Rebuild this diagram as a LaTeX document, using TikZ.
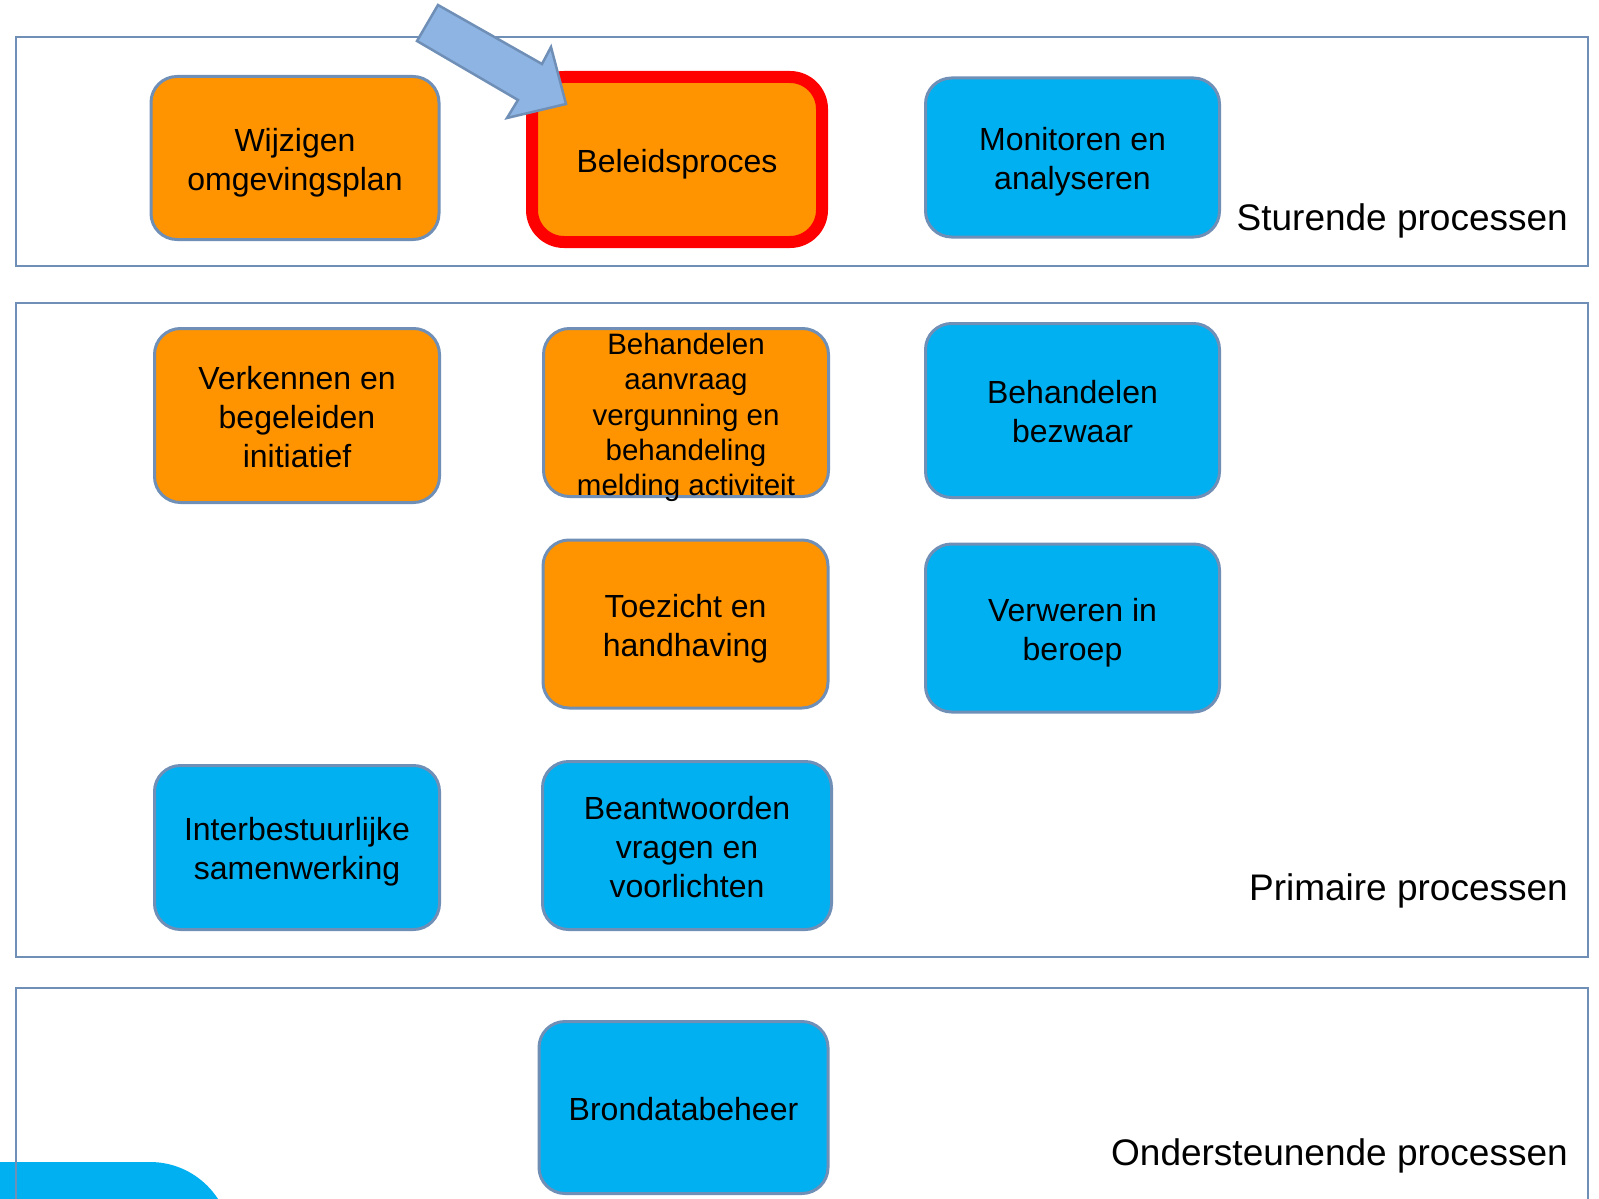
\documentclass[tikz,border=0pt]{standalone}
\usepackage{fontspec}
\setmainfont{Liberation Sans}
\definecolor{orng}{HTML}{FF9400}
\definecolor{cyanblue}{HTML}{00B0F0}
\definecolor{edgeblue}{HTML}{6F8FB7}
\definecolor{arrowfill}{HTML}{8DB4E2}
\newcommand{\bxtop}{\rule{0pt}{1.03em}}
\newcommand{\bxbot}{\rule[-0.22em]{0pt}{0.22em}}
\tikzset{
  frame/.style={draw=edgeblue, line width=2.5pt},
  procbox/.style={rounded corners=26pt, draw=edgeblue, line width=3pt, align=center,
    inner sep=0pt, text=black, font=\fontsize{32pt}{39pt}\selectfont},
  orangebox/.style={procbox, fill=orng},
  bluebox/.style={procbox, fill=cyanblue},
  lanelabel/.style={anchor=base east, inner sep=0pt, font=\fontsize{37pt}{44pt}\selectfont}
}
\begin{document}
\begin{tikzpicture}[x=1pt,y=-1pt]
\useasboundingbox (0,0) rectangle (1599,1199);
\clip (0,0) rectangle (1599,1199);
% bottom-left partial shape
\fill[cyanblue, rounded corners=81pt] (-300,1162) rectangle (231,1450);
% lanes
\draw[frame] (16,37) rectangle (1588,266);
\draw[frame] (16,303) rectangle (1588,957);
\draw[frame] (16,988) rectangle (1588,1260);
% boxes
\node[orangebox, minimum width=288pt, minimum height=163pt] (wijz) at (295,158) {\bxtop Wijzigen\\omgevingsplan\bxbot};
\node[orangebox, draw=red, line width=12pt, rounded corners=32pt, minimum width=290pt, minimum height=165pt] (beleid) at (677,159.5) {\bxtop Beleidsproces\bxbot};
\node[bluebox, minimum width=294pt, minimum height=159pt] (monitor) at (1072.5,157.5) {\bxtop Monitoren en\\analyseren\bxbot};
\node[orangebox, minimum width=285pt, minimum height=174pt] (verk) at (297,415.5) {\bxtop Verkennen en\\begeleiden\\initiatief\bxbot};
\node[orangebox, minimum width=285pt, minimum height=168pt, text height=167.25pt, text depth=0.75pt, font=\fontsize{29.5pt}{35.3pt}\selectfont] (aanvraag) at (686,412.5) {Behandelen\\aanvraag\\vergunning en\\behandeling\\melding activiteit};
\node[bluebox, minimum width=294pt, minimum height=174pt] (bezwaar) at (1072.5,410.5) {\bxtop Behandelen\\bezwaar\bxbot};
\node[orangebox, minimum width=285pt, minimum height=168pt] (toezicht) at (685.5,624) {\bxtop Toezicht en\\handhaving\bxbot};
\node[bluebox, minimum width=294pt, minimum height=168pt] (beroep) at (1072.5,628) {\bxtop Verweren in\\beroep\bxbot};
\node[bluebox, minimum width=285pt, minimum height=164pt] (inter) at (297,847.5) {\bxtop Interbestuurlijke\\samenwerking\bxbot};
\node[bluebox, minimum width=289pt, minimum height=168pt] (beantw) at (687,845.5) {\bxtop Beantwoorden\\vragen en\\voorlichten\bxbot};
\node[bluebox, minimum width=289pt, minimum height=172pt] (bron) at (683.5,1107.5) {\bxtop Brondatabeheer\bxbot};
% lane labels
\node[lanelabel] (lstur) at (1568,230) {Sturende processen};
\node[lanelabel] (lprim) at (1568,900) {Primaire processen};
\node[lanelabel] (lond) at (1568,1165) {Ondersteunende processen};
% block arrow pointing at Beleidsproces
\draw[fill=arrowfill, draw=edgeblue, line width=2.5pt, line join=miter]
  (438,5) -- (542,64) -- (551,47) -- (566,104) -- (507,118) -- (518,100) -- (417,41) -- cycle;
\end{tikzpicture}
\end{document}
